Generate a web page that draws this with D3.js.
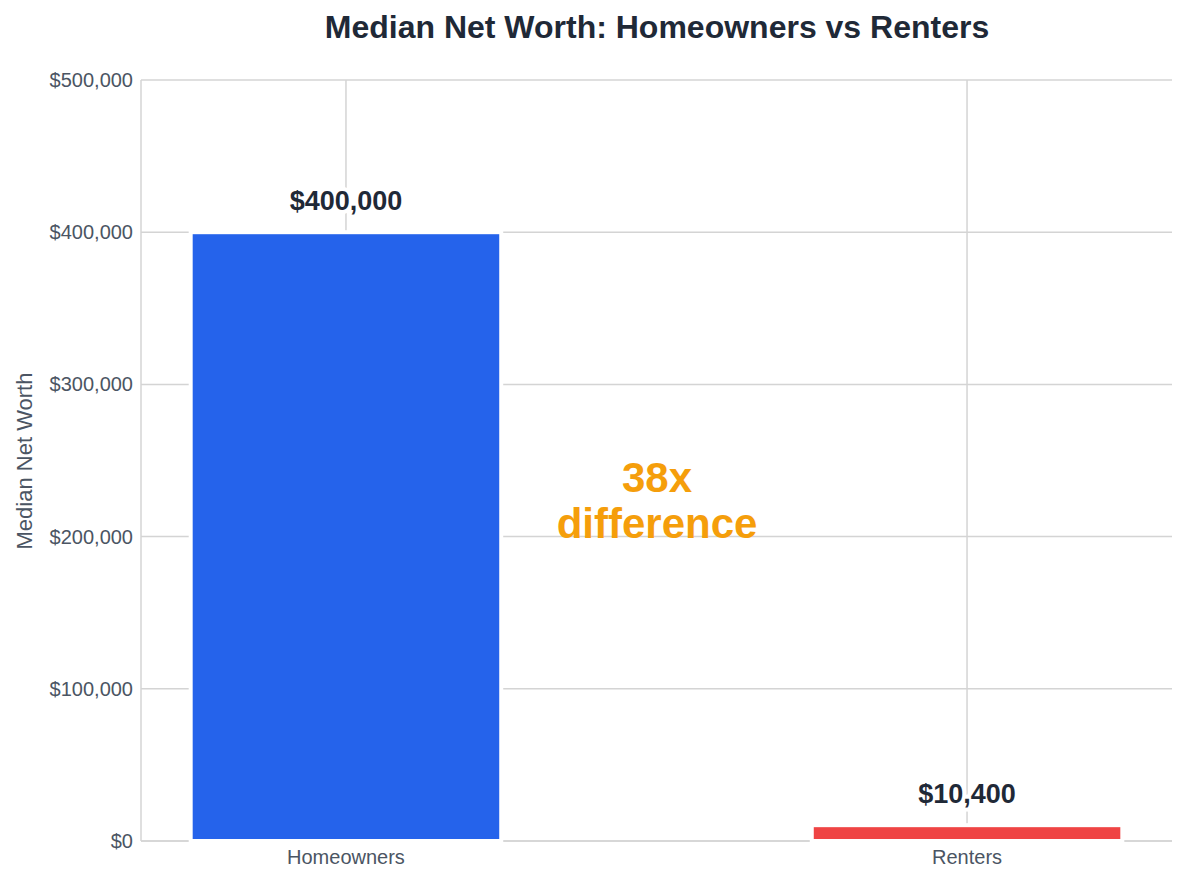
<!DOCTYPE html>
<html><head><meta charset="utf-8">
<script src="https://cdn.jsdelivr.net/npm/d3@7"></script>
<style>body{margin:0;background:#fff;font-family:"Liberation Sans",Arial,sans-serif}</style>
</head><body><svg id="c" width="1187" height="882"></svg>
<script>
const categories = ["Homeowners", "Renters"];
const values = [400000, 10400];
const labels = ["$400,000", "$10,400"];
const colors = ["#2563eb", "#ef4444"];
const yTicks = [0, 100000, 200000, 300000, 400000, 500000];

const svg = d3.select("#c");
const m = {l:141, r:1172, t:80, b:841};
const x = d3.scaleBand().domain(categories).range([m.l, m.r]).paddingInner(0.5).paddingOuter(0.08);
const y = d3.scaleLinear().domain([0, 500000]).range([m.b, m.t]);
const fmt = v => "$" + d3.format(",")(v);

// grid
svg.append("g").selectAll("line").data(yTicks).join("line")
  .attr("x1", m.l).attr("x2", m.r).attr("y1", d=>y(d)).attr("y2", d=>y(d))
  .attr("stroke", "#d4d4d4").attr("stroke-width", 1.5);
svg.append("g").selectAll("line").data(categories).join("line")
  .attr("x1", d=>x(d)+x.bandwidth()/2).attr("x2", d=>x(d)+x.bandwidth()/2)
  .attr("y1", m.t).attr("y2", m.b).attr("stroke", "#d4d4d4").attr("stroke-width", 1.5);
// axes lines
svg.append("line").attr("x1", m.l).attr("x2", m.l).attr("y1", m.t).attr("y2", m.b).attr("stroke", "#d4d4d4").attr("stroke-width",1.5);
svg.append("line").attr("x1", m.l).attr("x2", m.r).attr("y1", m.b).attr("y2", m.b).attr("stroke", "#d4d4d4").attr("stroke-width",1.5);

// bars
svg.append("g").selectAll("rect").data(values).join("rect")
  .attr("x", (d,i)=>x(categories[i])).attr("width", x.bandwidth())
  .attr("y", d=>y(d)).attr("height", d=>y(0)-y(d))
  .attr("fill", (d,i)=>colors[i]).attr("stroke", "#fff").attr("stroke-width", 4);

// value labels
svg.append("g").selectAll("text").data(values).join("text")
  .attr("x", (d,i)=>x(categories[i])+x.bandwidth()/2).attr("y", d=>y(d)-22)
  .attr("text-anchor", "middle").attr("font-size", 27).attr("font-weight", "bold")
  .attr("fill", "#1f2937").attr("stroke", "#fff").attr("stroke-width", 8)
  .attr("paint-order", "stroke").attr("stroke-linejoin","round")
  .text((d,i)=>labels[i]);

// y ticks
svg.append("g").selectAll("text").data(yTicks).join("text")
  .attr("x", 133).attr("y", d=>y(d)).attr("dy", "0.35em").attr("text-anchor", "end")
  .attr("font-size", 20).attr("fill", "#4b5563").text(fmt);
// x ticks
svg.append("g").selectAll("text").data(categories).join("text")
  .attr("x", d=>x(d)+x.bandwidth()/2).attr("y", 864).attr("text-anchor", "middle")
  .attr("font-size", 20).attr("fill", "#4b5563").text(d=>d);

svg.append("text").attr("transform", "translate(32,461) rotate(-90)").attr("text-anchor","middle")
  .attr("font-size", 22).attr("fill", "#4b5563").text("Median Net Worth");
svg.append("text").attr("x", 657).attr("y", 38).attr("text-anchor","middle")
  .attr("font-size", 32).attr("font-weight","bold").attr("fill","#1f2937")
  .text("Median Net Worth: Homeowners vs Renters");
const ann = svg.append("text").attr("text-anchor","middle").attr("font-size", 42)
  .attr("font-weight","bold").attr("fill","#f59e0b");
ann.append("tspan").attr("x", 657).attr("y", 492).text("38x");
ann.append("tspan").attr("x", 657).attr("y", 538).text("difference");
</script></body></html>
